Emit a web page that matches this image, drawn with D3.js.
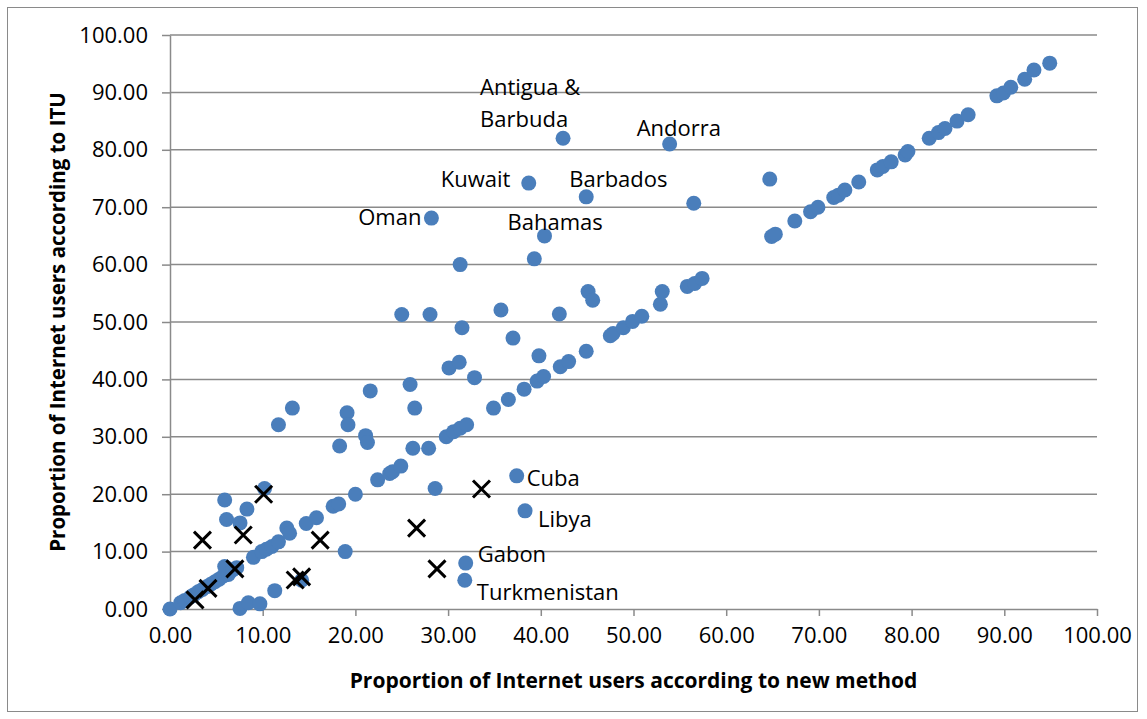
<!DOCTYPE html>
<html>
<head>
<meta charset="utf-8">
<script src="https://cdn.jsdelivr.net/npm/d3@7"></script>
<style>
  body { margin: 0; background: #fff; }
  svg text { font-family: "Open Sans", "Liberation Sans", sans-serif; fill: #000; }
</style>
</head>
<body>
<div id="chart"></div>
<script>
// circles: Internet users, new method (x) vs ITU (y)
const circleNew = [0, 1.15, 1.6, 2.2, 2.6, 3.05, 3.5, 4.0, 4.4, 4.85, 5.3, 5.75, 5.9, 6.3, 6.75, 7.2, 9.0, 9.9, 10.4, 11.0, 11.7,
  12.6, 12.9, 14.7, 15.8, 17.6, 18.2, 20.0, 22.4, 23.7, 24.0, 24.9, 29.8, 30.6, 31.3, 32.0, 34.9, 36.5, 38.2, 39.6,
  40.3, 42.1, 43.0, 44.9, 47.5, 47.8, 48.9, 49.9, 50.9, 52.9, 55.8, 56.6, 57.4, 64.9, 65.3, 67.4, 69.1, 69.9, 71.6,
  72.1, 72.8, 74.3, 76.3, 76.9, 77.8, 79.3, 79.6, 81.9, 82.9, 83.6, 84.9, 86.1, 89.2, 89.9, 90.7, 92.2, 93.2, 94.9,
  5.9, 6.1, 7.55, 8.3, 10.2, 11.7, 13.2, 18.3, 19.1, 19.2, 21.1, 21.3, 21.6, 25.9, 26.4, 26.2, 27.9, 25.0, 28.05,
  31.5, 30.1, 31.2, 32.85, 35.7, 37.0, 39.8, 42.0, 45.1, 45.6, 53.1, 31.3, 39.3, 56.5, 64.7,
  18.9, 28.6, 11.3, 7.55, 8.45, 9.7, 14.2,
  42.4, 53.9, 38.7, 44.9, 28.2, 40.4, 37.4, 38.3, 31.9, 31.8];
const circleITU = [0, 1.1, 1.5, 2.1, 2.5, 3.0, 3.4, 3.9, 4.3, 4.75, 5.2, 5.75, 7.4, 6.0, 6.8, 7.2, 9.0, 10.0, 10.4, 10.9, 11.7,
  14.1, 13.2, 14.9, 15.9, 17.9, 18.3, 20.0, 22.5, 23.6, 23.9, 24.9, 30.0, 30.9, 31.5, 32.1, 35.0, 36.5, 38.3, 39.7,
  40.5, 42.2, 43.1, 44.9, 47.6, 48.0, 49.0, 50.1, 51.0, 53.1, 56.2, 56.7, 57.6, 64.9, 65.3, 67.6, 69.2, 70.0, 71.7,
  72.1, 73.0, 74.4, 76.5, 77.1, 77.9, 79.1, 79.7, 82.0, 83.0, 83.7, 85.0, 86.1, 89.4, 89.9, 90.9, 92.3, 93.9, 95.1,
  19.0, 15.6, 15.0, 17.4, 21.0, 32.1, 35.0, 28.4, 34.2, 32.1, 30.2, 29.0, 38.0, 39.1, 35.0, 28.0, 28.0, 51.3, 51.3,
  49.0, 42.0, 43.0, 40.3, 52.1, 47.2, 44.1, 51.4, 55.3, 53.8, 55.3, 60.0, 61.0, 70.7, 74.9,
  10.0, 21.0, 3.2, 0.1, 1.1, 0.9, 5.0,
  82.0, 81.0, 74.2, 71.8, 68.1, 65.0, 23.2, 17.1, 8.0, 5.0];

// crosses
const crossNew = [3.5, 7.9, 10.1, 16.2, 7.0, 4.1, 2.7, 13.5, 14.2, 33.6, 26.6, 28.8];
const crossITU = [12.0, 12.9, 20.0, 12.0, 7.0, 3.6, 1.6, 5.05, 5.6, 20.9, 14.1, 7.0];

// named countries
const labelNames = ["Antigua &\nBarbuda", "Andorra", "Kuwait", "Barbados", "Oman", "Bahamas", "Cuba", "Libya", "Gabon", "Turkmenistan"];
const labelNew = [42.4, 53.9, 38.7, 44.9, 28.2, 40.4, 37.4, 38.3, 31.9, 31.8];
const labelITU = [82.0, 81.0, 74.2, 71.8, 68.1, 65.0, 23.2, 17.1, 8.0, 5.0];

const xTicks = d3.range(0, 101, 10);
const yTicks = d3.range(0, 101, 10);

// label placement relative to its marker: [dx, dy of last line, anchor]
const labelOffsets = {
  "Antigua &\nBarbuda": [-83, -11, "start"],
  "Andorra": [-33, -8, "start"],
  "Kuwait": [-88, 4, "start"],
  "Barbados": [-17, -10, "start"],
  "Oman": [-10, 7, "end"],
  "Bahamas": [-37, -6, "start"],
  "Cuba": [10, 10, "start"],
  "Libya": [13, 16, "start"],
  "Gabon": [12, -1, "start"],
  "Turkmenistan": [12, 20, "start"]
};

const W = 1147, H = 719;
const plot = {left: 170, right: 1097, top: 35, bottom: 609};
const gridColor = "#8a8a8a";
const blue = "#4a7ebb";

const svg = d3.select("#chart").append("svg")
  .attr("width", W)
  .attr("height", H);

// chart border
svg.append("rect")
  .attr("x", 7.5).attr("y", 7.5)
  .attr("width", 1130).attr("height", 704)
  .attr("fill", "none")
  .attr("stroke", gridColor)
  .attr("stroke-width", 1);

const x = d3.scaleLinear().domain([0, 100]).range([plot.left, plot.right]);
const y = d3.scaleLinear().domain([0, 100]).range([plot.bottom, plot.top]);

// horizontal gridlines
svg.append("g")
  .selectAll("line")
  .data(yTicks.filter(d => d > 0))
  .enter().append("line")
  .attr("x1", plot.left).attr("x2", plot.right)
  .attr("y1", d => y(d)).attr("y2", d => y(d))
  .attr("stroke", gridColor)
  .attr("stroke-width", 1.5);

const fmt = d3.format(".2f");

const yAxis = svg.append("g")
  .attr("transform", `translate(${plot.left},0)`)
  .call(d3.axisLeft(y).tickValues(yTicks).tickFormat(fmt).tickSize(8).tickSizeOuter(0).tickPadding(14));

const xAxis = svg.append("g")
  .attr("transform", `translate(0,${plot.bottom})`)
  .call(d3.axisBottom(x).tickValues(xTicks).tickFormat(fmt).tickSize(7).tickSizeOuter(0).tickPadding(11));

[yAxis, xAxis].forEach(g => {
  g.select(".domain").attr("stroke", gridColor).attr("stroke-width", 1.5);
  g.selectAll(".tick line").attr("stroke", gridColor).attr("stroke-width", 1.5);
  g.selectAll(".tick text").attr("font-size", 22).attr("fill", "#000")
    .style("font-family", "'Open Sans', sans-serif");
});

// circle series
const circles = circleNew.map((v, i) => ({nx: v, itu: circleITU[i]}));
svg.append("g")
  .selectAll("circle")
  .data(circles)
  .enter().append("circle")
  .attr("cx", d => x(d.nx))
  .attr("cy", d => y(d.itu))
  .attr("r", 7.5)
  .attr("fill", blue);

// cross series
const crosses = crossNew.map((v, i) => ({nx: v, itu: crossITU[i]}));
const s = 8.5;
svg.append("g")
  .selectAll("path")
  .data(crosses)
  .enter().append("path")
  .attr("d", d => {
    const cx = x(d.nx), cy = y(d.itu);
    return `M${cx - s},${cy - s}L${cx + s},${cy + s}M${cx - s},${cy + s}L${cx + s},${cy - s}`;
  })
  .attr("stroke", "#000")
  .attr("stroke-width", 3)
  .attr("fill", "none");

// country labels
labelNames.forEach((name, i) => {
  const [dx, dy, anchor] = labelOffsets[name];
  const t = svg.append("text")
    .attr("x", x(labelNew[i]) + dx)
    .attr("y", y(labelITU[i]) + dy)
    .attr("text-anchor", anchor)
    .attr("font-size", 22);
  name.split("\n").forEach((line, j, lines) => {
    t.append("tspan")
      .attr("x", x(labelNew[i]) + dx)
      .attr("dy", j === 0 ? -(lines.length - 1) * 32 : 32)
      .text(line);
  });
});

// axis titles
svg.append("text")
  .attr("x", (plot.left + plot.right) / 2)
  .attr("y", 688)
  .attr("text-anchor", "middle")
  .attr("font-size", 21)
  .attr("font-weight", "bold")
  .text("Proportion of Internet users according to new method");

svg.append("text")
  .attr("transform", `translate(65,${(plot.top + plot.bottom) / 2}) rotate(-90)`)
  .attr("text-anchor", "middle")
  .attr("font-size", 20.5)
  .attr("font-weight", "bold")
  .text("Proportion of Internet users according to ITU");
</script>
</body>
</html>
